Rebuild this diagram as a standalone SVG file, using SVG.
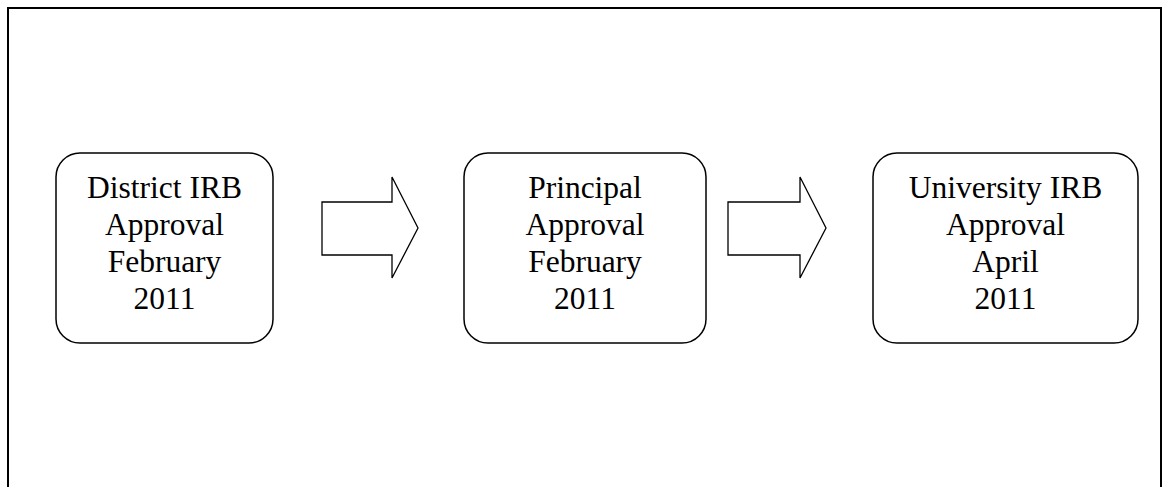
<svg xmlns="http://www.w3.org/2000/svg" width="1162" height="487" viewBox="0 0 1162 487">
<style>
.frame{fill:none;stroke:#000;stroke-width:2}
.box{fill:#fff;stroke:#000;stroke-width:1.5}
.arrow{fill:#fff;stroke:#000;stroke-width:1.3;stroke-linejoin:miter}
.t{font-family:"Liberation Serif","Times New Roman",serif;font-size:31.5px;fill:#000;text-anchor:middle}
</style>
<rect width="1162" height="487" fill="#fff"/>
<path class="frame" d="M8,490 L8,8 L1161,8 L1161,490"/>
<g id="node1">
<rect class="box" x="56" y="153" width="217" height="190" rx="24" ry="24"/>
<text class="t" x="164.5" y="198">District IRB</text>
<text class="t" x="164.5" y="235">Approval</text>
<text class="t" x="164.5" y="272">February</text>
<text class="t" x="164.5" y="309">2011</text>
</g>
<g id="node2">
<rect class="box" x="464" y="153" width="242" height="190" rx="24" ry="24"/>
<text class="t" x="585" y="198">Principal</text>
<text class="t" x="585" y="235">Approval</text>
<text class="t" x="585" y="272">February</text>
<text class="t" x="585" y="309">2011</text>
</g>
<g id="node3">
<rect class="box" x="873" y="153" width="265" height="190" rx="24" ry="24"/>
<text class="t" x="1005.5" y="198">University IRB</text>
<text class="t" x="1005.5" y="235">Approval</text>
<text class="t" x="1005.5" y="272">April</text>
<text class="t" x="1005.5" y="309">2011</text>
</g>
<g id="connectors">
<path class="arrow" d="M322,202 L392,202 L392,177 L418,228 L392,278 L392,255 L322,255 Z"/>
<path class="arrow" d="M728,202 L800,202 L800,177 L826,228 L800,278 L800,255 L728,255 Z"/>
</g>
</svg>
